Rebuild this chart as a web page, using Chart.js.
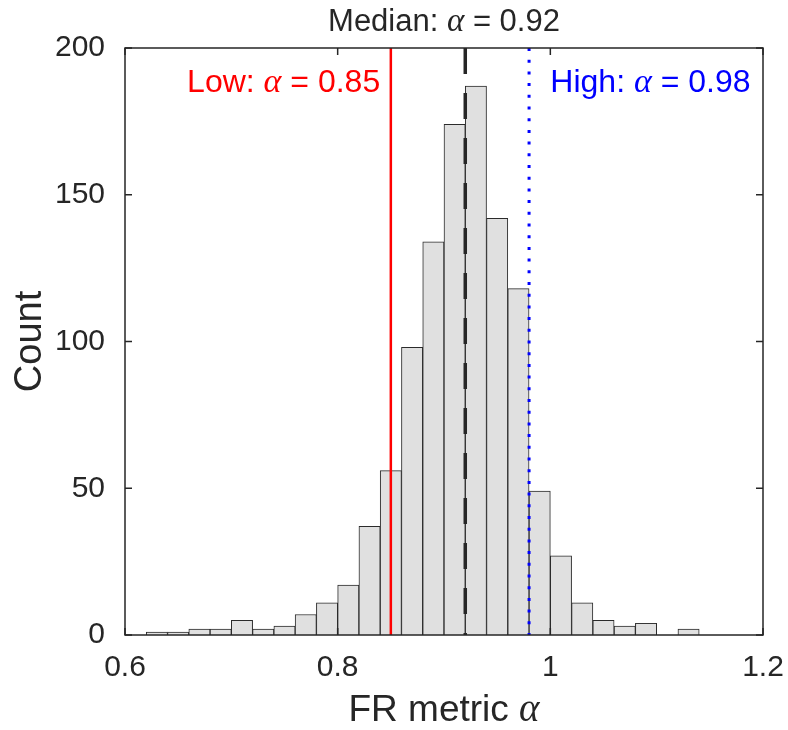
<!DOCTYPE html>
<html>
<head>
<meta charset="utf-8">
<script src="https://cdn.jsdelivr.net/npm/chart.js@4/dist/chart.umd.min.js"></script>
<style>
  html, body { margin: 0; padding: 0; background: #fff; }
  #wrap { width: 788px; height: 730px; }
</style>
</head>
<body>
<div id="wrap"><canvas id="myChart"></canvas></div>
<script>
// DATA
const binCenters = [0.63, 0.65, 0.67, 0.69, 0.71, 0.73, 0.75, 0.77, 0.79, 0.81, 0.83, 0.85, 0.87,
                    0.89, 0.91, 0.93, 0.95, 0.97, 0.99, 1.01, 1.03, 1.05, 1.07, 1.09, 1.11, 1.13];
const counts = [1, 1, 2, 2, 5, 2, 3, 7, 11, 17, 37, 56, 98,
                134, 174, 187, 142, 118, 49, 27, 11, 5, 3, 4, 0, 2];
const xTicks = [0.6, 0.8, 1.0, 1.2];
const yTicks = [0, 50, 100, 150, 200];

const lowAlpha = 0.85;
const medianAlpha = 0.92;
const highAlpha = 0.98;

/**********************************************************************************
 * STYLE
 *********************************************************************************/

const SANS = '"Liberation Sans", Arial, Helvetica, sans-serif';
const SERIF = '"Liberation Serif", "DejaVu Serif", serif';
const AXIS_COLOR = '#262626';

// draws a line of text made of parts with different fonts (for the italic alpha)
function drawMixed(ctx, parts, x, y, align, color) {
    let total = 0;
    parts.forEach(p => { ctx.font = p[1]; total += ctx.measureText(p[0]).width; });
    let cx = x;
    if (align === 'center') cx = x - total / 2;
    if (align === 'right') cx = x - total;
    ctx.fillStyle = color;
    ctx.textBaseline = 'alphabetic';
    ctx.textAlign = 'left';
    parts.forEach(p => {
        ctx.font = p[1];
        ctx.fillText(p[0], cx, y);
        cx += ctx.measureText(p[0]).width;
    });
}

function alphaLabel(prefix, value, size) {
    return [
        [prefix, size + 'px ' + SANS],
        ['\u03B1', 'italic ' + (size + 2) + 'px ' + SERIF],
        [' = ' + value, size + 'px ' + SANS]
    ];
}

/**********************************************************************************
 * OVERLAY: reference lines, frame, inward ticks, texts
 *********************************************************************************/

const overlay = {
    id: 'overlay',
    afterDatasetsDraw(chart) {
        const ctx = chart.ctx;
        const xs = chart.scales.x;
        const ys = chart.scales.y;
        const a = chart.chartArea;
        ctx.save();

        // low (red solid)
        let px = xs.getPixelForValue(lowAlpha);
        ctx.strokeStyle = '#ff0000';
        ctx.lineWidth = 2.5;
        ctx.setLineDash([]);
        ctx.beginPath(); ctx.moveTo(px, a.top); ctx.lineTo(px, a.bottom); ctx.stroke();

        // median (black dashed)
        px = xs.getPixelForValue(medianAlpha);
        ctx.strokeStyle = '#262626';
        ctx.lineWidth = 3.5;
        ctx.setLineDash([26, 19]);
        ctx.beginPath(); ctx.moveTo(px, a.top); ctx.lineTo(px, a.bottom); ctx.stroke();

        // high (blue dotted)
        px = xs.getPixelForValue(highAlpha);
        ctx.strokeStyle = '#0000ff';
        ctx.lineWidth = 3;
        ctx.setLineDash([3, 8.7]);
        ctx.beginPath(); ctx.moveTo(px, a.top); ctx.lineTo(px, a.bottom); ctx.stroke();
        ctx.setLineDash([]);

        // frame
        ctx.strokeStyle = AXIS_COLOR;
        ctx.lineWidth = 1.5;
        ctx.strokeRect(a.left, a.top, a.right - a.left, a.bottom - a.top);

        // ticks pointing inward, on all four sides
        const TL = 7;
        ctx.beginPath();
        xTicks.forEach(v => {
            const x = xs.getPixelForValue(v);
            ctx.moveTo(x, a.bottom); ctx.lineTo(x, a.bottom - TL);
            ctx.moveTo(x, a.top); ctx.lineTo(x, a.top + TL);
        });
        yTicks.forEach(v => {
            const y = ys.getPixelForValue(v);
            ctx.moveTo(a.left, y); ctx.lineTo(a.left + TL, y);
            ctx.moveTo(a.right, y); ctx.lineTo(a.right - TL, y);
        });
        ctx.stroke();

        // texts
        const cx = (a.left + a.right) / 2;
        drawMixed(ctx, alphaLabel('Median: ', '0.92', 31), cx, 31, 'center', AXIS_COLOR);
        drawMixed(ctx, alphaLabel('Low: ', '0.85', 32), xs.getPixelForValue(0.84), ys.getPixelForValue(185), 'right', '#ff0000');
        drawMixed(ctx, alphaLabel('High: ', '0.98', 32), xs.getPixelForValue(1.0), ys.getPixelForValue(185), 'left', '#0000ff');
        drawMixed(ctx, alphaLabel('FR metric ', '', 37).slice(0, 2), cx, 721, 'center', AXIS_COLOR);

        ctx.restore();
    }
};

/**********************************************************************************
 * CHART
 *********************************************************************************/

const ctx = document.getElementById('myChart');

var chart = new Chart(ctx, {
    type: 'bar',
    data: {
        datasets: [{
            label: 'Count',
            data: binCenters.map((c, i) => ({ x: c, y: counts[i] })),
            backgroundColor: '#e0e0e0',
            borderColor: '#2b2b2b',
            borderWidth: 1,
            borderSkipped: 'start',
            barPercentage: 1,
            categoryPercentage: 1
        }]
    },
    options: {
        responsive: true,
        maintainAspectRatio: false,
        animation: false,
        layout: { padding: { top: 48, right: 25, left: 0, bottom: 0 } },
        plugins: {
            legend: { display: false },
            tooltip: { enabled: false }
        },
        scales: {
            x: {
                type: 'linear',
                min: 0.6,
                max: 1.2,
                offset: false,
                grid: { display: false, offset: false },
                border: { display: false },
                afterBuildTicks: (scale) => { scale.ticks = xTicks.map(v => ({ value: v })); },
                afterFit: (scale) => {
                    scale.height = 95;
                    scale.paddingLeft = 0;
                    scale.paddingRight = 0;
                },
                ticks: {
                    padding: 7,
                    color: AXIS_COLOR,
                    font: { family: SANS, size: 30 },
                    callback: (v) => String(+Number(v).toFixed(2))
                }
            },
            y: {
                min: 0,
                max: 200,
                grid: { display: false },
                border: { display: false },
                afterBuildTicks: (scale) => { scale.ticks = yTicks.map(v => ({ value: v })); },
                afterFit: (scale) => {
                    scale.width = 125;
                    scale.paddingTop = 0;
                    scale.paddingBottom = 0;
                },
                ticks: {
                    padding: 12,
                    color: AXIS_COLOR,
                    font: { family: SANS, size: 30 }
                },
                title: {
                    display: true,
                    text: 'Count',
                    color: AXIS_COLOR,
                    font: { family: SANS, size: 38 },
                    padding: { top: 8, bottom: 0 }
                }
            }
        }
    },
    plugins: [overlay]
});
</script>
</body>
</html>
